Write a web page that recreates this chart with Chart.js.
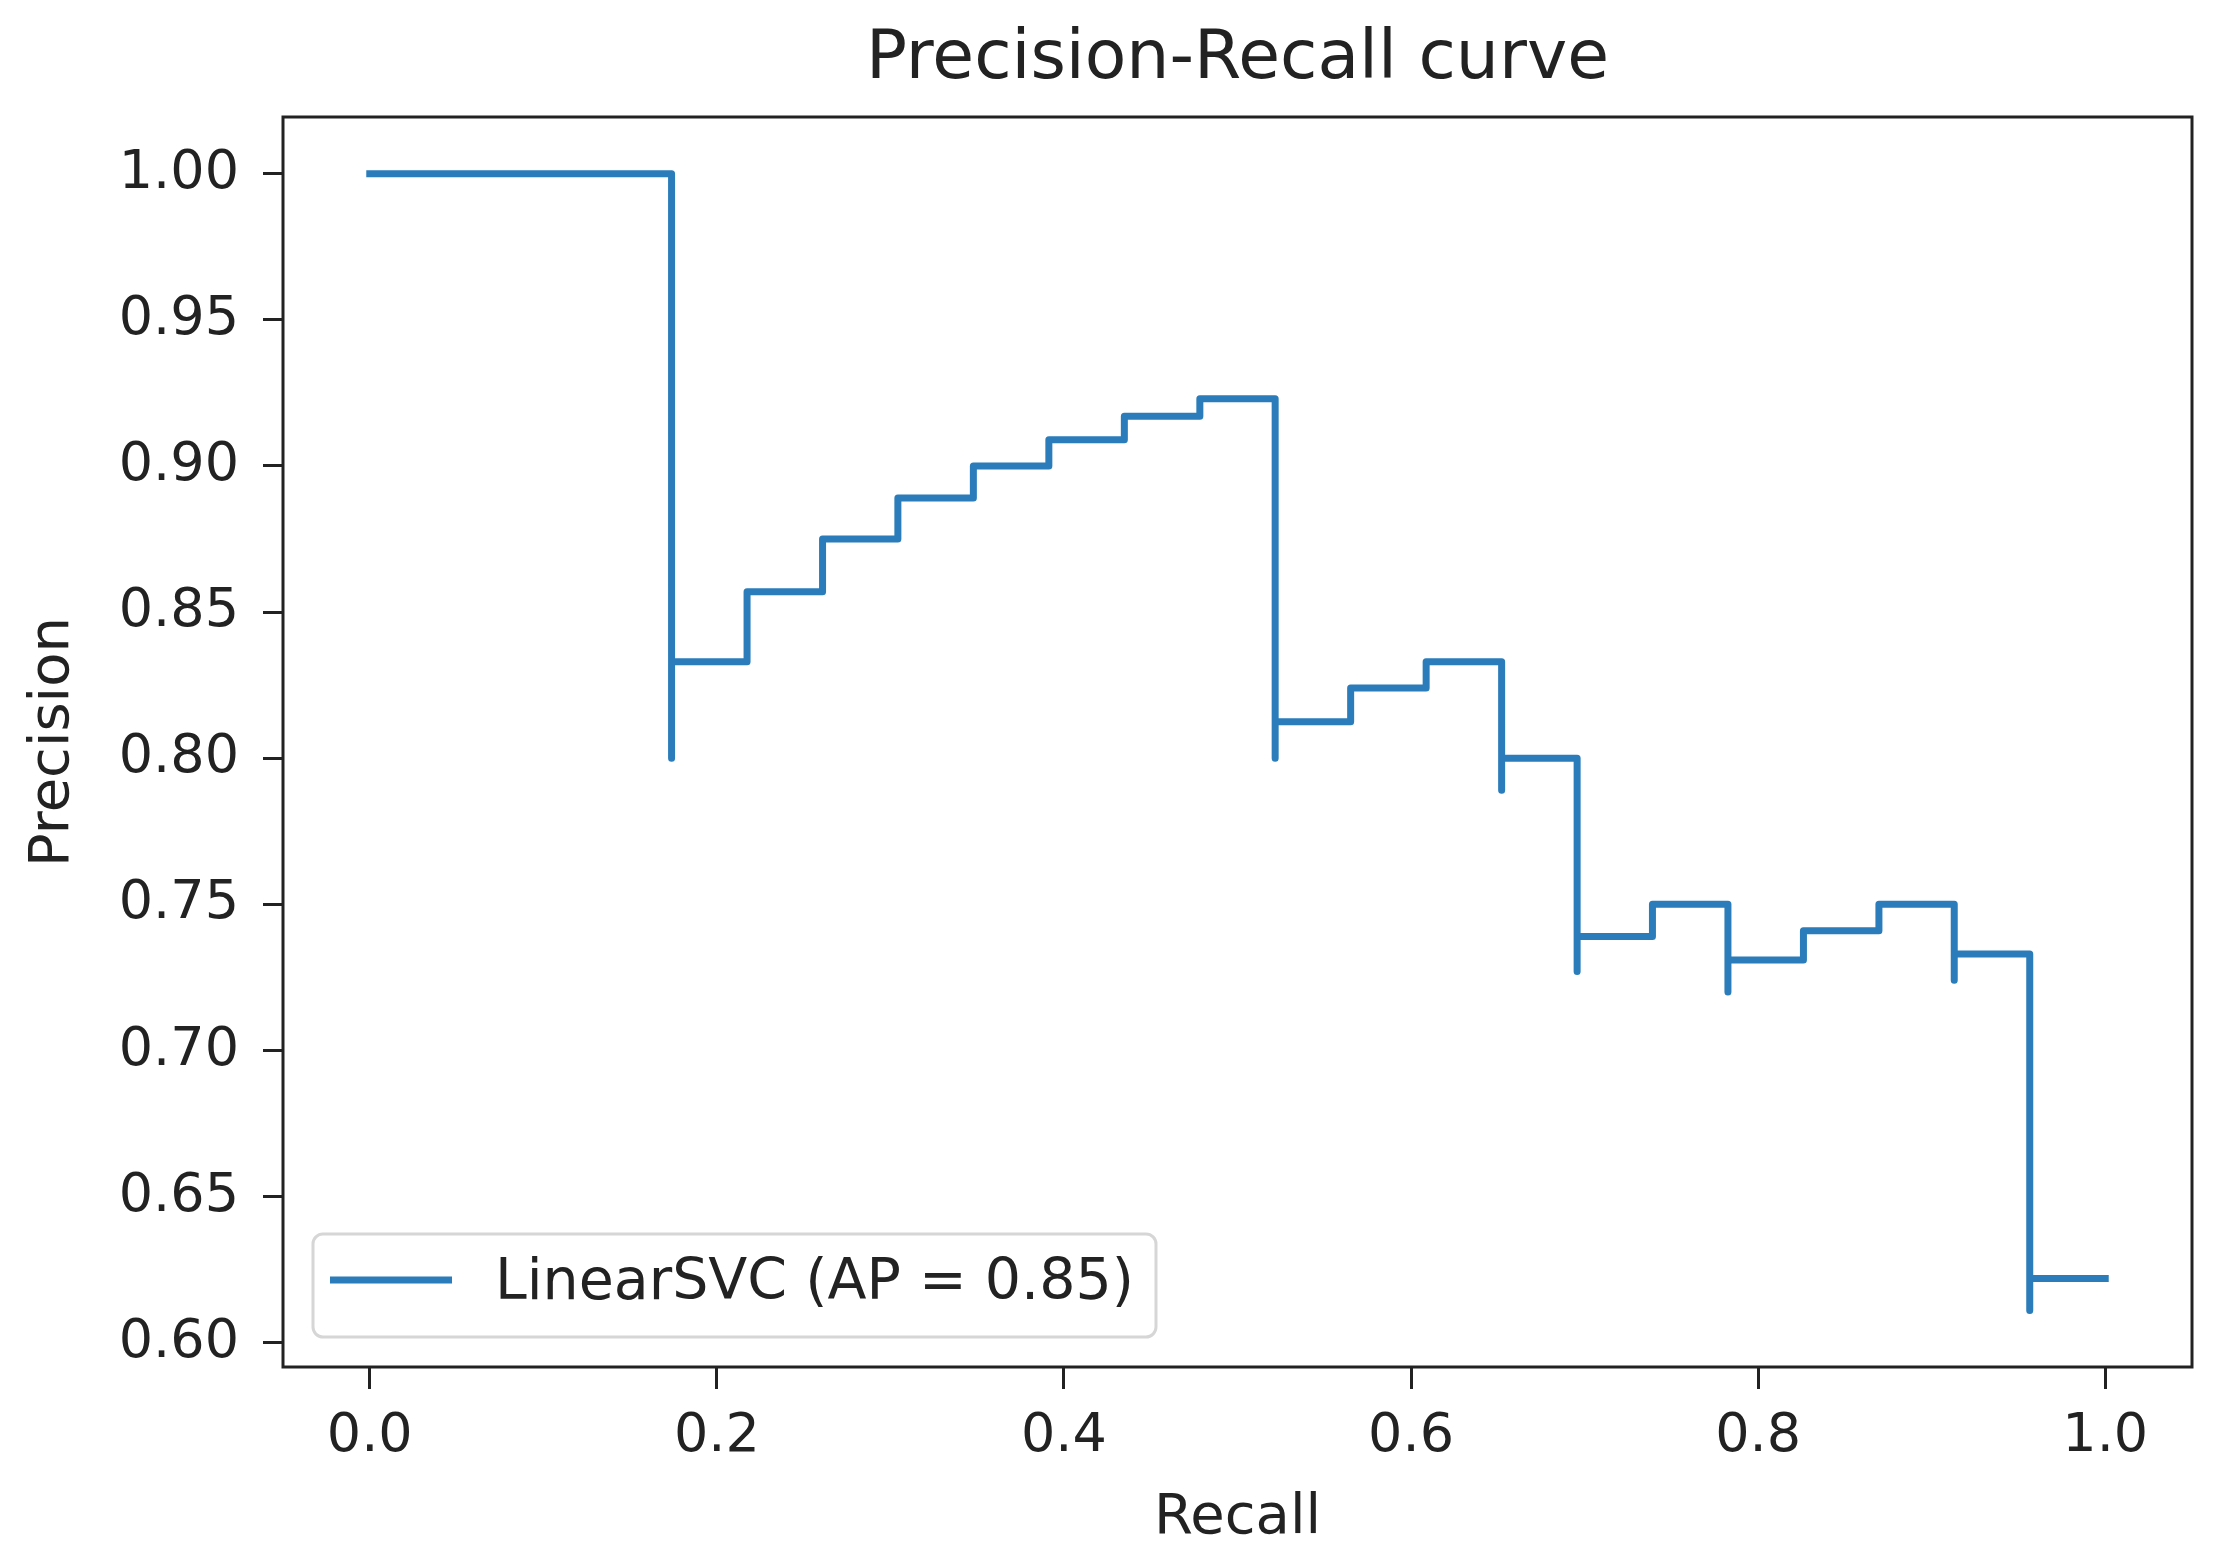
<!DOCTYPE html>
<html>
<head>
<meta charset="utf-8">
<script src="https://cdn.jsdelivr.net/npm/chart.js@4.4.1/dist/chart.umd.min.js"></script>
<style>
  body { margin: 0; background: #fff; }
</style>
</head>
<body>
<canvas id="prChart" width="2230" height="1568"></canvas>
<script>
// precision-recall points, in increasing recall order (step drawn between them)
const recall = [0, 0.1739, 0.1739, 0.2174, 0.2609, 0.3043, 0.3478, 0.3913, 0.4348, 0.4783,
  0.5217, 0.5217, 0.5652, 0.6087, 0.6522, 0.6522, 0.6957, 0.6957, 0.7391, 0.7826,
  0.7826, 0.8261, 0.8696, 0.9130, 0.9130, 0.9565, 0.9565, 1.0];
const precision = [1.0, 1.0, 0.800, 0.833, 0.857, 0.875, 0.889, 0.900, 0.909, 0.917,
  0.923, 0.800, 0.8125, 0.824, 0.833, 0.789, 0.800, 0.727, 0.739, 0.750,
  0.720, 0.731, 0.741, 0.750, 0.724, 0.733, 0.611, 0.622];

const xTicks = [0, 0.2, 0.4, 0.6, 0.8, 1.0];
const xTickLabels = ['0.0', '0.2', '0.4', '0.6', '0.8', '1.0'];
const yTicks = [0.60, 0.65, 0.70, 0.75, 0.80, 0.85, 0.90, 0.95, 1.00];
const yTickLabels = ['0.60', '0.65', '0.70', '0.75', '0.80', '0.85', '0.90', '0.95', '1.00'];

const seriesLabel = 'LinearSVC (AP = 0.85)';
const lineColor = '#2a7dba';
const inkColor = '#222222';
const fontFamily = "'DejaVu Sans', sans-serif";

// spines on all four sides + matplotlib style legend box in the lower left
const framePlugin = {
  id: 'frame',
  afterDraw(chart) {
    const { ctx, chartArea: a } = chart;
    ctx.save();
    ctx.strokeStyle = inkColor;
    ctx.lineWidth = 3;
    ctx.strokeRect(a.left, a.top, a.right - a.left, a.bottom - a.top);

    ctx.font = '57px ' + fontFamily;
    const textW = ctx.measureText(seriesLabel).width;
    const w = 182 + textW + 22, h = 103;
    const x0 = a.left + 30, y0 = a.bottom - 30 - h;
    ctx.beginPath();
    ctx.roundRect(x0, y0, w, h, 10);
    ctx.fillStyle = 'rgba(255,255,255,0.8)';
    ctx.fill();
    ctx.strokeStyle = '#d6d6d6';
    ctx.lineWidth = 3;
    ctx.stroke();

    ctx.beginPath();
    ctx.moveTo(x0 + 17, y0 + 46);
    ctx.lineTo(x0 + 139, y0 + 46);
    ctx.strokeStyle = lineColor;
    ctx.lineWidth = 7;
    ctx.stroke();

    ctx.fillStyle = inkColor;
    ctx.textBaseline = 'middle';
    ctx.textAlign = 'left';
    ctx.fillText(seriesLabel, x0 + 182, y0 + 50);
    ctx.restore();
  }
};

new Chart(document.getElementById('prChart'), {
  type: 'line',
  data: {
    datasets: [{
      label: seriesLabel,
      data: recall.map((r, i) => ({ x: r, y: precision[i] })),
      borderColor: lineColor,
      borderWidth: 7,
      borderCapStyle: 'square',
      borderJoinStyle: 'round',
      stepped: 'after',
      pointRadius: 0,
      fill: false
    }]
  },
  options: {
    responsive: false,
    devicePixelRatio: 1,
    animation: false,
    layout: { padding: { left: 0, right: 38, top: 0, bottom: 0 } },
    plugins: {
      legend: { display: false },
      tooltip: { enabled: false },
      title: {
        display: true,
        fullSize: false,
        text: 'Precision-Recall curve',
        color: inkColor,
        font: { family: fontFamily, size: 68, weight: 'normal' },
        padding: { top: 20, bottom: 15.4 }
      }
    },
    scales: {
      x: {
        type: 'linear',
        min: -0.05,
        max: 1.05,
        afterFit: (scale) => { scale.height = 201; },
        afterBuildTicks: (scale) => { scale.ticks = xTicks.map(v => ({ value: v })); },
        border: { display: false },
        grid: { drawOnChartArea: false, drawTicks: true, tickLength: 22, tickWidth: 3, tickColor: inkColor },
        ticks: {
          color: inkColor,
          padding: 16,
          maxRotation: 0,
          font: { family: fontFamily, size: 54 },
          callback: (v, i) => xTickLabels[i]
        },
        title: {
          display: true,
          text: 'Recall',
          color: inkColor,
          font: { family: fontFamily, size: 56 },
          padding: 16
        }
      },
      y: {
        type: 'linear',
        min: 0.5917,
        max: 1.0194,
        afterFit: (scale) => { scale.width = 283; },
        afterBuildTicks: (scale) => { scale.ticks = yTicks.map(v => ({ value: v })); },
        border: { display: false },
        grid: { drawOnChartArea: false, drawTicks: true, tickLength: 20, tickWidth: 3, tickColor: inkColor },
        ticks: {
          color: inkColor,
          padding: 24,
          font: { family: fontFamily, size: 54 },
          callback: (v, i) => yTickLabels[i]
        },
        title: {
          display: true,
          text: 'Precision',
          color: inkColor,
          font: { family: fontFamily, size: 56 },
          padding: 20
        }
      }
    }
  },
  plugins: [framePlugin]
});
</script>
</body>
</html>
